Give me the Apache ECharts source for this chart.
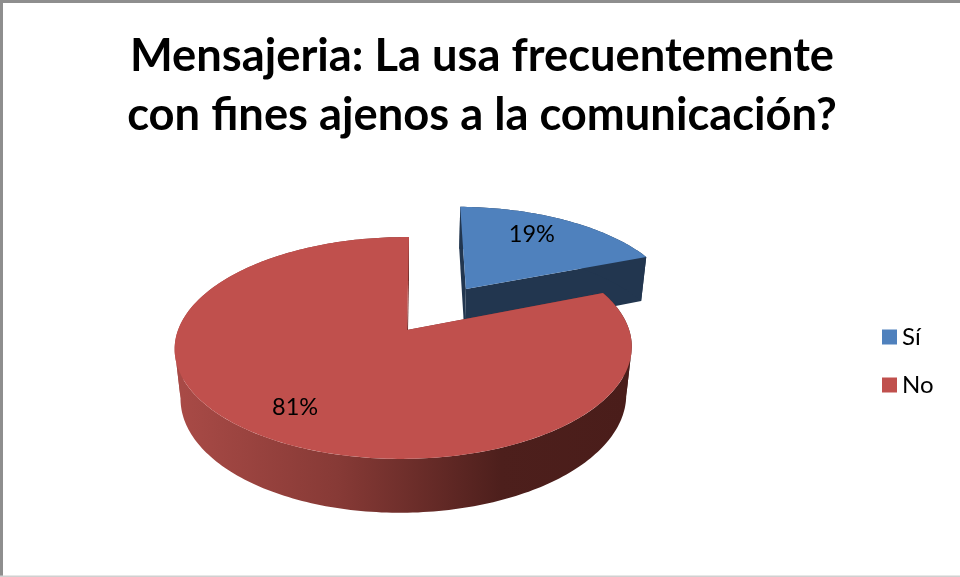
<!DOCTYPE html>
<html>
<head>
<meta charset="utf-8">
<style>html,body{margin:0;padding:0;background:#fff}#chart{width:960px;height:577px}</style>
<script src="https://cdn.jsdelivr.net/npm/echarts@6/dist/echarts.min.js"></script>
</head>
<body>
<div id="chart"></div>
<script>
const titleText = 'Mensajeria: La usa frecuentemente\ncon fines ajenos a la comunicación?';
const categories = ['Sí', 'No'];
const shares = [19, 81];
const topColors = ['#4F81BD', '#C0504D'];
const explosions = [0.49, 0];
const labelRadii = [0.72, 0.77];
const labelNudges = [[-8, -3], [-1, 0]];
const FONT = 'Lato, "Open Sans", sans-serif';

// Perspective camera for the tilted disc (unit radius, disc thickness z in 0..1)
const cam = { x0: 407, y0: 330, A: 225.5, B: 108, H: 49.7, k: 0.162, j: 0.015, m: 0.025, shear: 2 };
function project(X, Y, z) {
  const w = 1 + cam.k * Y + cam.j * X + cam.m * z;
  return [cam.x0 + cam.A * X / w + cam.shear * Y, cam.y0 - (cam.B * Y - cam.H * z) / w];
}

const total = shares.reduce((a, b) => a + b, 0);
const TAU = Math.PI * 2;
// Angles at which the disc's outline turns away from the viewer
const SILHOUETTE_TILT = Math.asin(cam.k);

function rimPoints(a0, a1, dx, dy, z) {
  const pts = [];
  const n = Math.max(4, Math.ceil((a1 - a0) / 0.02));
  for (let i = 0; i <= n; i++) {
    const a = a0 + (a1 - a0) * i / n;
    pts.push(project(dx + Math.sin(a), dy + Math.cos(a), z));
  }
  return pts;
}

function poly(points, fill) {
  return { type: 'polygon', shape: { points }, style: { fill, stroke: null }, silent: true };
}

function sideFill(idx) {
  if (idx === 0) return '#22364F';
  return new echarts.graphic.LinearGradient(182, 0, 626, 0, [
    { offset: 0, color: '#A84A46' },
    { offset: 0.35, color: '#873A36' },
    { offset: 0.72, color: '#4D1F1C' },
    { offset: 1, color: '#4A1D1A' }
  ], true);
}

// The wall is cut at the silhouette, so that each part stays a simple
// outline and fills without winding gaps.
function wallParts(a0, a1, dx, dy, fill) {
  const cuts = [a0];
  [Math.PI / 2 + SILHOUETTE_TILT, Math.PI * 1.5 - SILHOUETTE_TILT].forEach(c => {
    if (c > a0 && c < a1) cuts.push(c);
  });
  cuts.push(a1);
  const parts = [];
  for (let i = 0; i < cuts.length - 1; i++) {
    const upper = rimPoints(cuts[i], cuts[i + 1], dx, dy, 0);
    const lower = rimPoints(cuts[i], cuts[i + 1], dx, dy, 1);
    parts.push(poly(upper.concat(lower.reverse()), fill));
  }
  return parts;
}

function renderSlice(idx) {
  return function (params, api) {
    const value = api.value(0);
    const before = shares.slice(0, idx).reduce((a, b) => a + b, 0);
    const a0 = before / total * TAU;
    const a1 = a0 + value / total * TAU;
    const mid = (a0 + a1) / 2;
    const e = explosions[idx];
    const dx = e * Math.sin(mid), dy = e * Math.cos(mid);
    const apexTop = project(dx, dy, 0), apexLow = project(dx, dy, 1);
    const rimTop = rimPoints(a0, a1, dx, dy, 0);
    const rimLow = rimPoints(a0, a1, dx, dy, 1);
    const innerDark = idx === 0 ? '#22364F' : '#7A302D';
    const r = labelRadii[idx];
    const labelPos = project(dx + r * Math.sin(mid), dy + r * Math.cos(mid), 0);
    return {
      type: 'group',
      children: [
        poly([apexTop, rimTop[0], rimLow[0], apexLow], innerDark),
        poly([apexTop, rimTop[rimTop.length - 1], rimLow[rimLow.length - 1], apexLow], innerDark),
        ...wallParts(a0, a1, dx, dy, sideFill(idx)),
        poly([apexTop].concat(rimTop), topColors[idx]),
        {
          type: 'text', silent: true,
          style: {
            x: labelPos[0] + labelNudges[idx][0], y: labelPos[1] + labelNudges[idx][1],
            text: Math.round(value / total * 100) + '%',
            fill: '#000', font: '23.5px ' + FONT,
            textAlign: 'center', textVerticalAlign: 'middle'
          }
        }
      ]
    };
  };
}

const chart = echarts.init(document.getElementById('chart'), null, { renderer: 'canvas' });
chart.setOption({
  animation: false,
  backgroundColor: '#fff',
  title: {
    text: titleText,
    left: 477, top: 22,
    textAlign: 'center',
    textStyle: { fontFamily: FONT, fontWeight: 700, fontSize: 45.3, lineHeight: 59, color: '#000' }
  },
  legend: {
    orient: 'vertical',
    left: 877, top: 320,
    itemWidth: 15, itemHeight: 15, itemGap: 24,
    icon: 'rect',
    data: categories,
    textStyle: { fontFamily: FONT, fontSize: 24, color: '#000' }
  },
  graphic: [
    { type: 'rect', silent: true, shape: { x: 0, y: 0, width: 960, height: 3 }, style: { fill: '#8E8E8E' } },
    { type: 'rect', silent: true, shape: { x: 0, y: 0, width: 3, height: 577 }, style: { fill: '#8E8E8E' } },
    { type: 'rect', silent: true, shape: { x: 0, y: 575.5, width: 960, height: 1.5 }, style: { fill: '#D0D0D0' } }
  ],
  series: categories.map((name, idx) => ({
    type: 'custom',
    name,
    coordinateSystem: 'none',
    itemStyle: { color: topColors[idx] },
    data: [[shares[idx]]],
    renderItem: renderSlice(idx)
  }))
});
</script>
</body>
</html>
